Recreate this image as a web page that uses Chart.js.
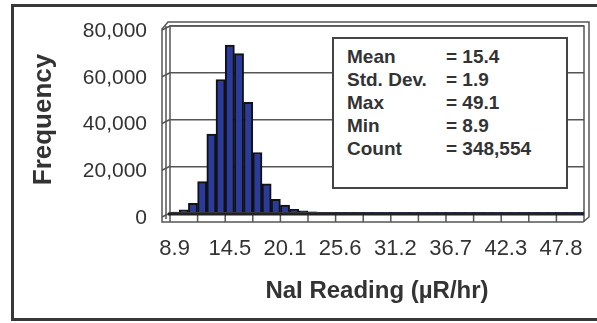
<!DOCTYPE html>
<html>
<head>
<meta charset="utf-8">
<script src="https://cdn.jsdelivr.net/npm/chart.js@4.4.0/dist/chart.umd.min.js"></script>
<style>
  body { margin: 0; background: #fff; }
  #wrap { position: relative; width: 597px; height: 323px; overflow: hidden; background: #fff; }
  #frame { position: absolute; left: 11px; top: 4px; width: 620px; height: 311px; border: 3px solid #383838; }
  #chart { position: absolute; left: 0; top: 0; }
  #stats {
    position: absolute; left: 332px; top: 37px; width: 232px; height: 142px;
    border: 2px solid #444; background: #fff; padding-top: 6px; box-sizing: content-box;
    font: bold 19px Arial, "Liberation Sans", sans-serif; color: #333; line-height: 23px;
  }
  #stats .row { position: relative; height: 23px; padding-left: 13px; white-space: nowrap; }
  #stats .val { position: absolute; left: 112px; top: 0; }
</style>
</head>
<body>
<div id="wrap">
  <div id="frame"></div>
  <canvas id="chart" width="597" height="323"></canvas>
  <div id="stats"></div>
</div>
<script>
// histogram bins (NaI reading, uR/hr) and counts
const categories = [
  "8.9", "9.8", "10.8", "11.7", "12.6", "13.6", "14.5", "15.4", "16.4", "17.3",
  "18.2", "19.2", "20.1", "21.0", "21.9", "22.8", "23.7", "24.7", "25.6", "26.5",
  "27.5", "28.4", "29.3", "30.2", "31.2", "32.1", "33.0", "33.9", "34.9", "35.8",
  "36.7", "37.6", "38.6", "39.5", "40.4", "41.3", "42.3", "43.2", "44.1", "45.0",
  "46.0", "46.9", "47.8", "48.7", "49.6"
];
const frequency = [
  400, 1400, 4100, 13400, 33800, 57100, 71800, 68200, 47300, 25900,
  12500, 5800, 3400, 1600, 900, 500, 300, 200, 150, 100,
  80, 60, 50, 40, 30, 25, 20, 15, 12, 10,
  8, 6, 5, 4, 3, 3, 2, 2, 1, 1,
  1, 1, 1, 1, 1
];
const yTicks = [0, 20000, 40000, 60000, 80000];
const labelEvery = 6;

const statLabels = ["Mean", "Std. Dev.", "Max", "Min", "Count"];
const statValues = ["= 15.4", "= 1.9", "= 49.1", "= 8.9", "= 348,554"];

// stats box
const stats = document.getElementById("stats");
statLabels.forEach((lab, i) => {
  const row = document.createElement("div");
  row.className = "row";
  row.textContent = lab;
  const v = document.createElement("span");
  v.className = "val";
  v.textContent = statValues[i];
  row.appendChild(v);
  stats.appendChild(row);
});

const FONT = 'Arial, "Liberation Sans", sans-serif';

// draws the excel-ish 3d walls and floor round the plot
const wallPlugin = {
  id: "walls",
  beforeDatasetsDraw(chart) {
    const { ctx, chartArea: a, scales: { y } } = chart;
    const d = 8;
    ctx.save();
    ctx.strokeStyle = "#555";
    ctx.lineWidth = 1.5;
    ctx.strokeRect(a.left, a.top, a.right - a.left, a.bottom - a.top);
    // outer edge
    ctx.beginPath();
    ctx.moveTo(a.left - d, a.bottom + 9);
    ctx.lineTo(a.left - d, a.top + 3);
    ctx.lineTo(a.left - 2, a.top - 4);
    ctx.lineTo(a.right + 5, a.top - 4);
    ctx.lineTo(a.right + 5, a.bottom + 4);
    ctx.lineTo(a.right - 1, a.bottom + 9);
    ctx.closePath();
    ctx.stroke();
    // left wall inner line
    ctx.beginPath();
    ctx.moveTo(a.left - 4, a.bottom + 6);
    ctx.lineTo(a.left - 4, a.top);
    ctx.stroke();
    // grid stubs on the side wall
    yTicks.forEach((t) => {
      const py = y.getPixelForValue(t);
      ctx.beginPath();
      ctx.moveTo(a.left - d, py + 4);
      ctx.lineTo(a.left, py);
      ctx.stroke();
    });
    ctx.restore();
  },
  afterDatasetsDraw(chart) {
    const { ctx, chartArea: a } = chart;
    const w = (a.right - a.left) / categories.length;
    ctx.save();
    ctx.strokeStyle = "#555";
    ctx.lineWidth = 1.5;
    for (let i = 0; i <= categories.length; i += 3) {
      const px = a.left + i * w;
      ctx.beginPath();
      ctx.moveTo(px, a.bottom);
      ctx.lineTo(px, a.bottom + 9);
      ctx.stroke();
    }
    ctx.strokeStyle = "#222";
    ctx.lineWidth = 3;
    ctx.beginPath();
    ctx.moveTo(a.left - 2, a.bottom + 1);
    ctx.lineTo(a.right, a.bottom + 1);
    ctx.stroke();
    ctx.restore();
  },
};

new Chart(document.getElementById("chart"), {
  type: "bar",
  data: {
    labels: categories,
    datasets: [
      {
        label: "Frequency",
        data: frequency,
        backgroundColor: "#2a3b9b",
        borderColor: "#111",
        borderWidth: 2,
        categoryPercentage: 1,
        barPercentage: 1,
      },
    ],
  },
  plugins: [wallPlugin],
  options: {
    responsive: false,
    animation: false,
    layout: { padding: { top: 26, right: 13, bottom: 0, left: 0 } },
    plugins: { legend: { display: false }, tooltip: { enabled: false } },
    scales: {
      x: {
        grid: { display: false },
        border: { display: false },
        ticks: {
          autoSkip: false,
          maxRotation: 0,
          padding: 15,
          color: "#333",
          font: { family: FONT, size: 22 },
          callback: (v, i) => (i % labelEvery === 0 ? categories[i] : ""),
        },
        title: {
          display: true,
          text: "NaI Reading (µR/hr)",
          color: "#333",
          font: { family: FONT, size: 24, weight: "bold" },
          padding: { top: 0, bottom: 17 },
        },
        afterFit: (s) => {
          s.height = 110;
          s.paddingLeft = 0;
          s.paddingRight = 0;
        },
      },
      y: {
        min: 0,
        max: 80000,
        grid: { color: "#555", lineWidth: 1.5, drawTicks: false },
        border: { display: false },
        ticks: {
          stepSize: 20000,
          padding: 23,
          labelOffset: 5,
          color: "#333",
          font: { family: FONT, size: 21 },
          callback: (v) => v.toLocaleString("en-US"),
        },
        title: {
          display: true,
          text: "Frequency",
          color: "#333",
          font: { family: FONT, size: 26, weight: "bold" },
          padding: { top: 28, bottom: 0 },
        },
        afterFit: (s) => {
          s.width = 170;
          s.paddingTop = 0;
          s.paddingBottom = 0;
        },
      },
    },
  },
});
</script>
</body>
</html>
